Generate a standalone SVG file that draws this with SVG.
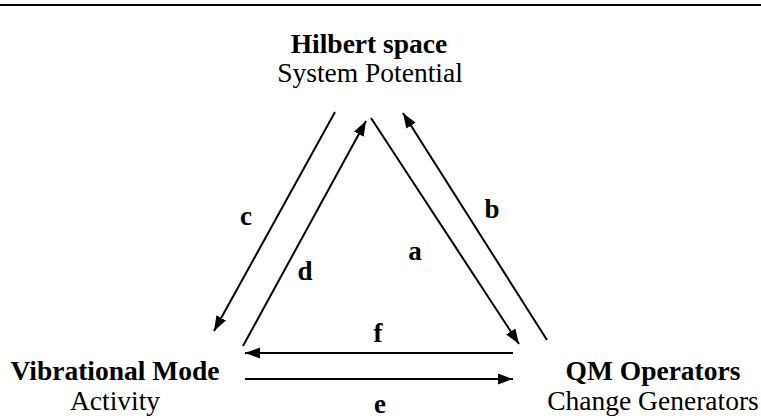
<svg xmlns="http://www.w3.org/2000/svg" width="761" height="419" viewBox="0 0 761 419">
<style>
text{font-family:"Liberation Serif","Times New Roman",serif;font-size:27.5px;fill:#000;text-anchor:middle}
.b{font-weight:bold}
.lb{font-weight:bold;font-size:27px}
.ln{stroke:#000;stroke-width:2;fill:none;marker-end:url(#ah)}
</style>
<defs>
<marker id="ah" markerUnits="userSpaceOnUse" markerWidth="16" markerHeight="12" refX="15" refY="5.5" orient="auto"><path d="M0,0 L15,5.5 L0,11 z" fill="#000"/></marker>
</defs>
<rect x="0" y="4" width="761" height="2" fill="#000"/>
<g id="hilbert"><text class="b" x="369" y="53">Hilbert space</text><text x="370" y="82">System Potential</text></g>
<g id="vibrational"><text class="b" x="115" y="380">Vibrational Mode</text><text x="115" y="410">Activity</text></g>
<g id="qm"><text class="b" x="653" y="380">QM Operators</text><text x="653" y="410">Change Generators</text></g>
<g id="connectors">
<line class="ln" x1="335" y1="112" x2="214" y2="331"/>
<line class="ln" x1="243" y1="346" x2="366" y2="121"/>
<line class="ln" x1="371" y1="118" x2="519" y2="344"/>
<line class="ln" x1="547" y1="340" x2="403" y2="113"/>
<line class="ln" x1="513" y1="353" x2="245" y2="353"/>
<line class="ln" x1="245" y1="379" x2="513" y2="379"/>
<text class="lb" x="246" y="225">c</text>
<text class="lb" x="305" y="280">d</text>
<text class="lb" x="415" y="260">a</text>
<text class="lb" x="492" y="218">b</text>
<text class="lb" x="378" y="342">f</text>
<text class="lb" x="380" y="413">e</text>
</g>
</svg>
